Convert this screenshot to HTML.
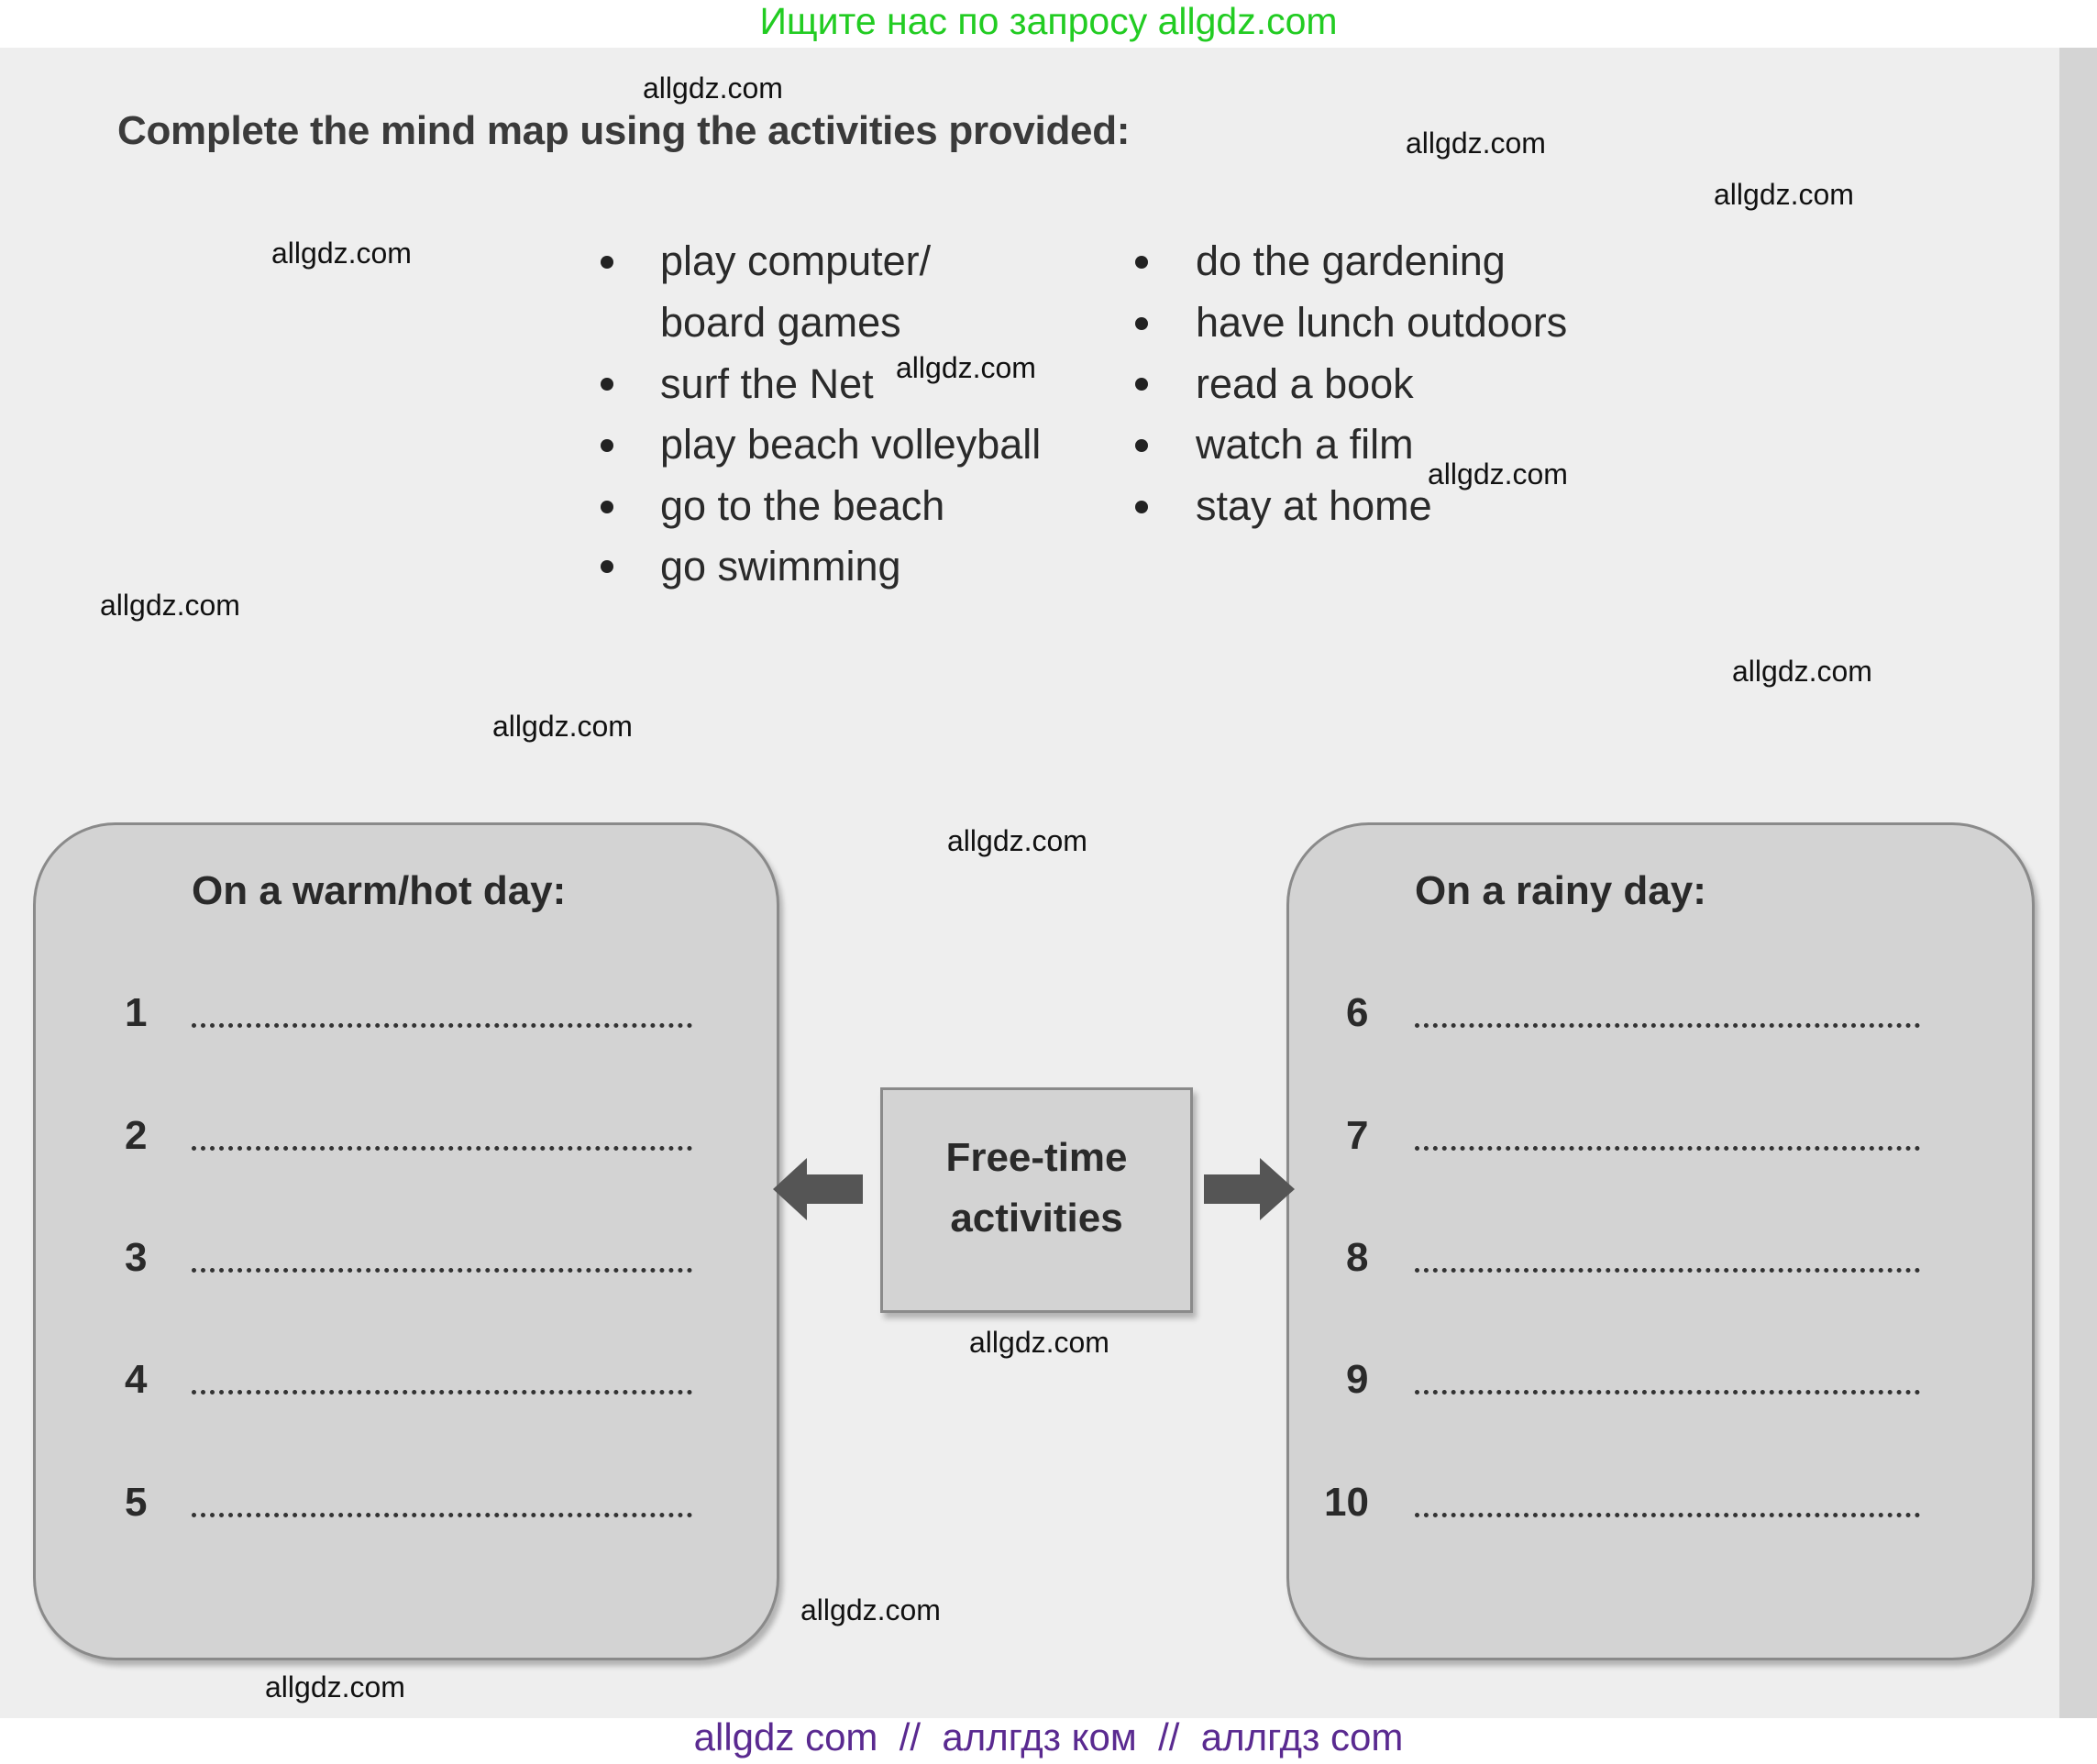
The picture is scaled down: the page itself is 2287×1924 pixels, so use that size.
<!DOCTYPE html>
<html><head><meta charset="utf-8"><style>
body{margin:0;width:2287px;height:1924px;position:relative;overflow:hidden;background:#fff;font-family:"Liberation Sans",sans-serif;}
.pg{position:absolute;left:0;top:52px;width:2287px;height:1822px;background:#eeeeee;}
.strip{position:absolute;left:2246px;top:52px;width:41px;height:1822px;background:#d4d4d4;}
.t{position:absolute;white-space:nowrap;line-height:1;}
.wm{position:absolute;font-size:32px;color:#111;white-space:nowrap;line-height:1;}
.b{font-size:45px;color:#2a2a2a;}
.dot{position:absolute;width:14px;height:14px;border-radius:50%;background:#222;}
.box{position:absolute;background:#d3d3d3;border:3px solid #8a8a8a;border-radius:90px;box-shadow:4px 6px 6px rgba(0,0,0,.25);}
.h{font-size:44px;font-weight:bold;color:#2a2a2a;}
.n{font-size:44px;font-weight:bold;color:#2a2a2a;}
.dl{position:absolute;height:0;border-top:5px dotted #333;}
</style></head><body>
<div class="pg"></div><div class="strip"></div>
<div class="t" style="left:0;width:2287px;text-align:center;top:3px;font-size:41px;color:#22cc22;">Ищите нас по запросу allgdz.com</div>
<div class="t" style="left:128px;top:121px;font-size:44px;letter-spacing:-0.3px;font-weight:bold;color:#3a3a3a;">Complete the mind map using the activities provided:</div>

<div class="dot" style="left:655px;top:279px"></div><div class="t b" style="left:720px;top:262px">play computer/</div>
<div class="t b" style="left:720px;top:329px">board games</div>
<div class="dot" style="left:655px;top:412px"></div><div class="t b" style="left:720px;top:396px">surf the Net</div>
<div class="dot" style="left:655px;top:479px"></div><div class="t b" style="left:720px;top:462px">play beach volleyball</div>
<div class="dot" style="left:655px;top:546px"></div><div class="t b" style="left:720px;top:529px">go to the beach</div>
<div class="dot" style="left:655px;top:611px"></div><div class="t b" style="left:720px;top:595px">go swimming</div>

<div class="dot" style="left:1238px;top:279px"></div><div class="t b" style="left:1304px;top:262px">do the gardening</div>
<div class="dot" style="left:1238px;top:346px"></div><div class="t b" style="left:1304px;top:329px">have lunch outdoors</div>
<div class="dot" style="left:1238px;top:412px"></div><div class="t b" style="left:1304px;top:396px">read a book</div>
<div class="dot" style="left:1238px;top:479px"></div><div class="t b" style="left:1304px;top:462px">watch a film</div>
<div class="dot" style="left:1238px;top:546px"></div><div class="t b" style="left:1304px;top:529px">stay at home</div>

<div class="box" style="left:36px;top:897px;width:808px;height:908px"></div>
<div class="box" style="left:1403px;top:897px;width:810px;height:908px"></div>
<div class="t h" style="left:209px;top:950px">On a warm/hot day:</div>
<div class="t h" style="left:1543px;top:950px">On a rainy day:</div>

<div class="t n" style="left:136px;top:1083px">1</div><div class="dl" style="left:209px;top:1116px;width:546px"></div>
<div class="t n" style="left:136px;top:1217px">2</div><div class="dl" style="left:209px;top:1250px;width:546px"></div>
<div class="t n" style="left:136px;top:1350px">3</div><div class="dl" style="left:209px;top:1383px;width:546px"></div>
<div class="t n" style="left:136px;top:1483px">4</div><div class="dl" style="left:209px;top:1516px;width:546px"></div>
<div class="t n" style="left:136px;top:1617px">5</div><div class="dl" style="left:209px;top:1650px;width:546px"></div>

<div class="t n" style="left:1468px;top:1083px">6</div><div class="dl" style="left:1543px;top:1116px;width:551px"></div>
<div class="t n" style="left:1468px;top:1217px">7</div><div class="dl" style="left:1543px;top:1250px;width:551px"></div>
<div class="t n" style="left:1468px;top:1350px">8</div><div class="dl" style="left:1543px;top:1383px;width:551px"></div>
<div class="t n" style="left:1468px;top:1483px">9</div><div class="dl" style="left:1543px;top:1516px;width:551px"></div>
<div class="t n" style="left:1444px;top:1617px">10</div><div class="dl" style="left:1543px;top:1650px;width:551px"></div>

<div style="position:absolute;left:960px;top:1186px;width:335px;height:240px;background:#d3d3d3;border:3px solid #8a8a8a;box-shadow:4px 6px 6px rgba(0,0,0,.25);"></div>
<div class="t h" style="left:960px;width:341px;text-align:center;top:1241px">Free-time</div>
<div class="t h" style="left:960px;width:341px;text-align:center;top:1307px">activities</div>
<svg style="position:absolute;left:0;top:0" width="2287" height="1924">
<polygon points="941,1281 880,1281 880,1263 843,1297 880,1331 880,1313 941,1313" fill="#555"/>
<polygon points="1313,1281 1374,1281 1374,1263 1412,1297 1374,1331 1374,1313 1313,1313" fill="#555"/>
</svg>

<div class="wm" style="left:701px;top:80px">allgdz.com</div>
<div class="wm" style="left:1533px;top:140px">allgdz.com</div>
<div class="wm" style="left:1869px;top:196px">allgdz.com</div>
<div class="wm" style="left:296px;top:260px">allgdz.com</div>
<div class="wm" style="left:977px;top:385px">allgdz.com</div>
<div class="wm" style="left:1557px;top:501px">allgdz.com</div>
<div class="wm" style="left:109px;top:644px">allgdz.com</div>
<div class="wm" style="left:1889px;top:716px">allgdz.com</div>
<div class="wm" style="left:537px;top:776px">allgdz.com</div>
<div class="wm" style="left:1033px;top:901px">allgdz.com</div>
<div class="wm" style="left:1057px;top:1448px">allgdz.com</div>
<div class="wm" style="left:873px;top:1740px">allgdz.com</div>
<div class="wm" style="left:289px;top:1824px">allgdz.com</div>
<div class="t" style="left:0;width:2287px;text-align:center;top:1874px;font-size:42px;color:#5a2a90;">allgdz com &nbsp;// &nbsp;аллгдз ком &nbsp;// &nbsp;аллгдз com</div>
</body></html>
